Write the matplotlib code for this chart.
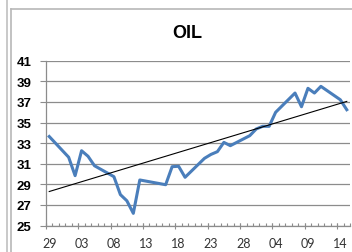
import numpy as np
import matplotlib
matplotlib.use("Agg")
import matplotlib.pyplot as plt
from matplotlib.lines import Line2D

# trading days, counted in calendar days from the first date
day = [0, 3, 4, 5, 6, 7, 10, 11, 12, 13, 14, 18, 19, 20, 21,
       24, 25, 26, 27, 28, 31, 32, 33, 34, 35, 38, 39, 40, 41, 42, 45, 46]
oil = [33.64, 31.63, 29.84, 32.26, 31.72, 30.80, 29.74, 28.00, 27.40, 26.18, 29.42,
       28.96, 30.71, 30.75, 29.68, 31.52, 31.90, 32.17, 33.07, 32.75, 33.72, 34.37,
       34.63, 34.63, 35.99, 37.86, 36.53, 38.32, 37.86, 38.51, 37.21, 36.24]
n_days = 47
date_labels = ["29", "03", "08", "13", "18", "23", "28", "04", "09", "14"]
y_ticks = [25, 27, 29, 31, 33, 35, 37, 39, 41]

plt.rcParams['font.family'] = ['Lato', 'DejaVu Sans']
bold_font = ['Liberation Sans', 'DejaVu Sans']

fig = plt.figure(figsize=(3.52, 2.53), dpi=100)
ax = fig.add_axes([46 / 352, 1 - 226.5 / 253, 304 / 352, 164.8 / 253])

x = np.array(day)
y = np.array(oil)
ax.plot(x, y, color='#4a7ebb', lw=2.2, solid_joinstyle='round', zorder=3)

# linear trendline
slope, intercept = np.polyfit(x, y, 1)
xt = np.array([x.min(), x.max()])
ax.plot(xt, slope * xt + intercept, color='black', lw=0.8, zorder=4)

ax.set_xlim(-0.5, n_days - 0.5)
ax.set_ylim(25, 41)
ax.set_yticks(y_ticks)
ax.set_yticklabels([str(v) for v in y_ticks], fontweight='bold', fontsize=9.5,
                   family=bold_font)
ax.yaxis.grid(True, color='#8c8c8c', lw=0.9)
ax.set_axisbelow(True)

label_pos = np.arange(0, n_days, 5)
ax.set_xticks(label_pos)
ax.set_xticklabels(date_labels, fontsize=9, color='#333333')
ax.set_xticks(np.arange(n_days + 1) - 0.5, minor=True)
ax.tick_params(axis='x', which='major', length=0, pad=8)
ax.tick_params(axis='x', which='minor', direction='in', length=2.5, color='#8c8c8c', width=0.8)
ax.tick_params(axis='y', which='major', direction='out', length=4.5, color='#8c8c8c',
               width=0.8, pad=6)

sec = ax.secondary_xaxis('bottom')
sec.set_xticks(label_pos - 0.5)
sec.set_xticklabels([])
sec.tick_params(direction='inout', length=5, color='#8c8c8c', width=0.8)
sec.spines['bottom'].set_visible(False)

for s in ['top', 'right']:
    ax.spines[s].set_visible(False)
for s in ['left', 'bottom']:
    ax.spines[s].set_color('#8c8c8c')
    ax.spines[s].set_linewidth(0.9)

fig.text(187 / 352, 1 - 34 / 253, "OIL", ha='center', va='center',
         fontsize=13, fontweight='bold', family=bold_font)

# chart frame lines
fig.add_artist(Line2D([6.5 / 352, 6.5 / 352], [0, 1], color='#c0c0c0', lw=1.2))
fig.add_artist(Line2D([10.5 / 352, 10.5 / 352], [0, 1 - 9.5 / 253], color='#b8b8b8', lw=1.2))
fig.add_artist(Line2D([10.5 / 352, 1], [1 - 9.5 / 253, 1 - 9.5 / 253], color='#b8b8b8', lw=1.2))

fig.savefig("out.png", dpi=100)
